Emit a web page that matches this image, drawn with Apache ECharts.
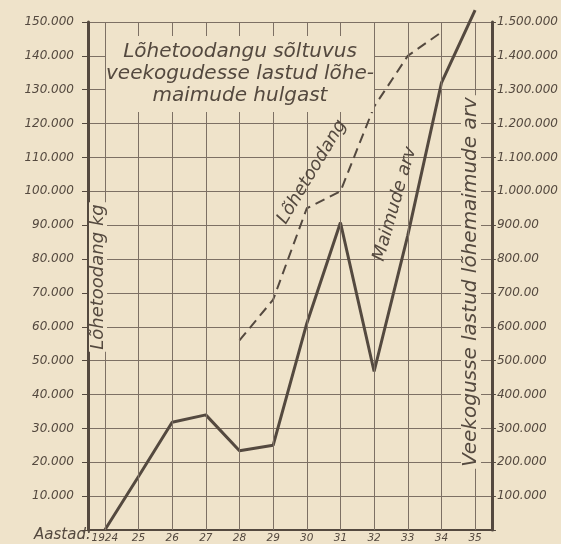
<!DOCTYPE html>
<html><head><meta charset="utf-8">
<script src="https://cdn.jsdelivr.net/npm/echarts@6/dist/echarts.min.js"></script>
<style>html,body{margin:0;padding:0;background:#efe3ca}#c{width:561px;height:544px}</style>
</head><body><div id="c"></div>
<script>
const years = ['1924','25','26','27','28','29','30','31','32','33','34','35'];
const maimudeArv = [0,158000,318000,340000,234000,250000,610000,908000,468000,870000,1320000,1535000];
const lohetoodang = [null,null,null,null,56000,68000,95000,100000,125000,140000,147000,null];
const leftTicks = ['','10.000','20.000','30.000','40.000','50.000','60.000','70.000','80.000','90.000','100.000','110.000','120.000','130.000','140.000','150.000'];
const rightTicks = ['','100.000','200.000','300.000','400.000','500.000','600.000','700.00','800.00','900.00','1.000.000','1.100.000','1.200.000','1.300.000','1.400.000','1.500.000'];

const ink = '#54493f';
const grid = '#7d7064';
const bg = '#efe3ca';
const fontFam = 'DejaVu Sans';

const chart = echarts.init(document.getElementById('c'), null, {renderer: 'canvas'});
const lbl = {fontFamily: fontFam, fontStyle: 'italic', color: ink, fontSize: 12};
chart.setOption({
  backgroundColor: bg,
  animation: false,
  grid: {left: 88, right: 69, top: 22, bottom: 14},
  xAxis: {
    type: 'category', data: years, boundaryGap: true,
    axisLine: {show: true, lineStyle: {color: ink, width: 2}},
    axisTick: {show: false},
    splitLine: {show: false},
    axisLabel: Object.assign({}, lbl, {margin: 3, fontSize: 10.5, interval: 0})
  },
  yAxis: [{
    type: 'value', min: 0, max: 150000, interval: 10000, position: 'left',
    axisLine: {show: true, lineStyle: {color: ink, width: 3}},
    axisTick: {show: true, inside: false, length: 6, lineStyle: {color: ink}},
    splitLine: {show: true, lineStyle: {color: grid, width: 1}},
    axisLabel: Object.assign({margin: 14, formatter: v => leftTicks[Math.round(v / 10000)]}, lbl)
  }, {
    type: 'value', min: 0, max: 1500000, interval: 100000, position: 'right',
    axisLine: {show: true, lineStyle: {color: ink, width: 3}},
    axisTick: {show: true, inside: false, length: 4, lineStyle: {color: ink}},
    splitLine: {show: false},
    axisLabel: Object.assign({margin: 5, formatter: v => rightTicks[Math.round(v / 100000)]}, lbl)
  }],
  series: [{
    name: 'Lõhetoodang', type: 'line', yAxisIndex: 0, data: lohetoodang,
    symbol: 'none', clip: false, z: 3,
    lineStyle: {color: ink, width: 2, type: [10, 6]},
    markLine: {
      silent: true, symbol: 'none', label: {show: false},
      lineStyle: {color: grid, width: 1, type: 'solid'},
      data: years.map(y => ({xAxis: y}))
    }
  }, {
    name: 'Maimude arv', type: 'line', yAxisIndex: 1, data: maimudeArv,
    symbol: 'none', clip: false, z: 4,
    lineStyle: {color: ink, width: 3}
  }],
  graphic: [
    {type: 'rect', shape: {x: 106, y: 36, width: 268, height: 76}, style: {fill: bg}, z: 10},
    {type: 'text', x: 240, y: 74, z: 11, style: {
      text: 'Lõhetoodangu sõltuvus\nveekogudesse lastud lõhe-\nmaimude hulgast',
      fontFamily: fontFam, fontStyle: 'italic', fontSize: 20, lineHeight: 22,
      fill: ink, textAlign: 'center', textVerticalAlign: 'middle'}},
    {type: 'text', x: 98, y: 277, rotation: Math.PI / 2, z: 11, style: {
      text: 'Lõhetoodang kg', fontFamily: fontFam, fontStyle: 'italic', fontSize: 18,
      fill: ink, textAlign: 'center', textVerticalAlign: 'middle', backgroundColor: bg, padding: [0, 2]}},
    {type: 'text', x: 471, y: 282, rotation: Math.PI / 2, z: 11, style: {
      text: 'Veekogusse lastud lõhemaimude arv', fontFamily: fontFam, fontStyle: 'italic', fontSize: 20,
      fill: ink, textAlign: 'center', textVerticalAlign: 'middle', backgroundColor: bg, padding: [0, 2]}},
    {type: 'text', x: 312, y: 172, rotation: 59 * Math.PI / 180, z: 11, style: {
      text: 'Lõhetoodang', fontFamily: fontFam, fontStyle: 'italic', fontSize: 18,
      fill: ink, textAlign: 'center', textVerticalAlign: 'middle'}},
    {type: 'text', x: 395, y: 204, rotation: 74 * Math.PI / 180, z: 11, style: {
      text: 'Maimude arv', fontFamily: fontFam, fontStyle: 'italic', fontSize: 18,
      fill: ink, textAlign: 'center', textVerticalAlign: 'middle'}},
    {type: 'text', x: 91, y: 535, z: 11, style: {
      text: 'Aastad:', fontFamily: fontFam, fontStyle: 'italic', fontSize: 15,
      fill: ink, textAlign: 'right', textVerticalAlign: 'middle'}}
  ]
});
</script></body></html>
